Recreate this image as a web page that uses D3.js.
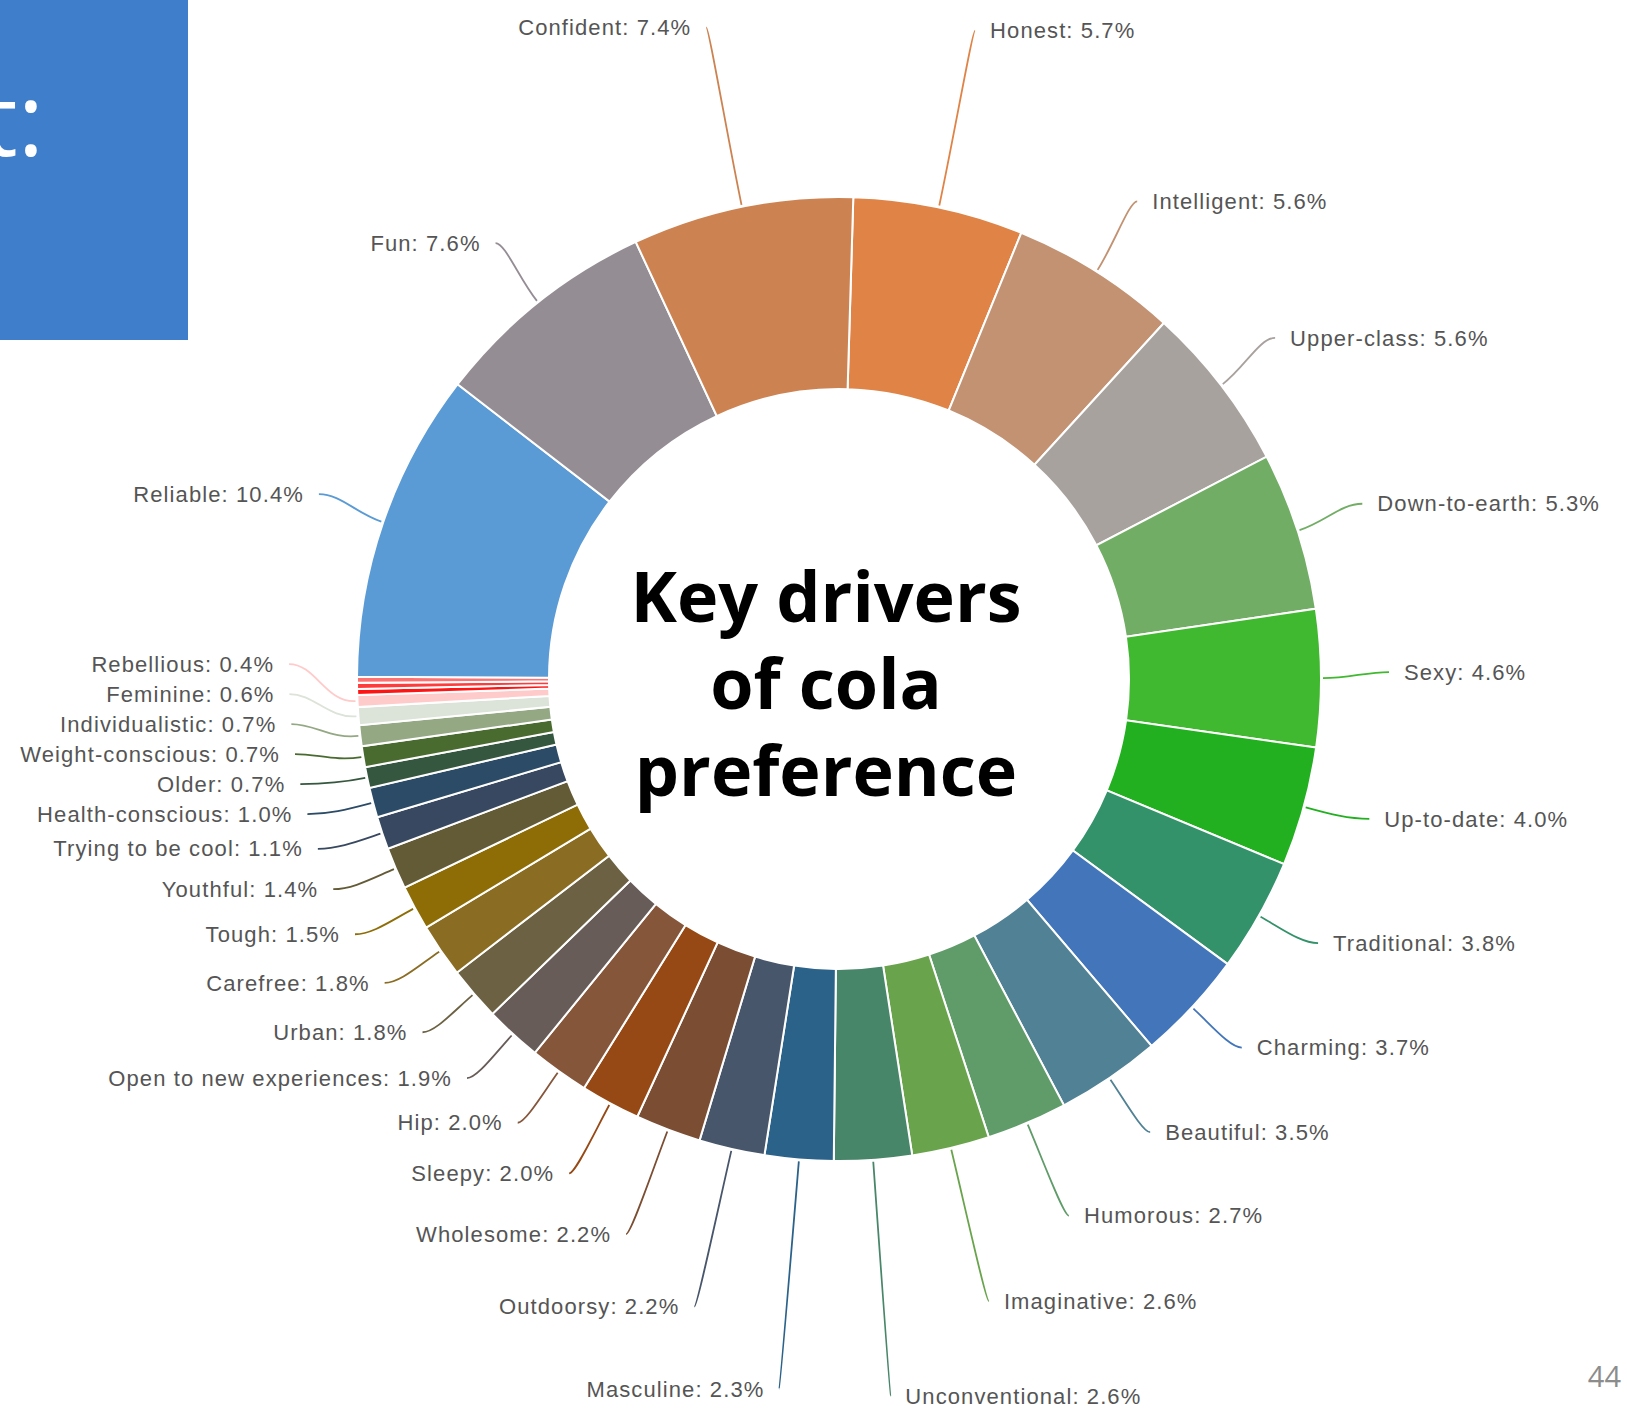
<!DOCTYPE html>
<html>
<head>
<meta charset="utf-8">
<script src="https://cdn.jsdelivr.net/npm/d3@7"></script>
<style>
  html, body { margin: 0; padding: 0; background: #fff; }
  svg { display: block; }
</style>
</head>
<body>
<svg id="chart" width="1627" height="1411"></svg>
<script>

// slices, clockwise from 12 o'clock (the three unnamed red slivers carry no label)
const categories = ["Honest", "Intelligent", "Upper-class", "Down-to-earth", "Sexy", "Up-to-date",
  "Traditional", "Charming", "Beautiful", "Humorous", "Imaginative", "Unconventional",
  "Masculine", "Outdoorsy", "Wholesome", "Sleepy", "Hip", "Open to new experiences",
  "Urban", "Carefree", "Tough", "Youthful", "Trying to be cool", "Health-conscious",
  "Older", "Weight-conscious", "Individualistic", "Feminine", "Rebellious",
  "", "", "", "Reliable", "Fun", "Confident"];

const values = [5.7, 5.6, 5.6, 5.3, 4.6, 4.0,
  3.8, 3.7, 3.5, 2.7, 2.6, 2.6,
  2.3, 2.2, 2.2, 2.0, 2.0, 1.9,
  1.8, 1.8, 1.5, 1.4, 1.1, 1.0,
  0.7, 0.7, 0.7, 0.6, 0.4,
  0.2, 0.2, 0.2, 10.4, 7.6, 7.4];

const colors = ["#df8346", "#c29272", "#a8a29e", "#72ad66", "#40b82f", "#22b020",
  "#33926a", "#4275ba", "#508194", "#609c6a", "#69a44d", "#48866a",
  "#2b6289", "#48566b", "#7b4e33", "#974915", "#85563a", "#675c58",
  "#6c6243", "#8a6c22", "#8e6d07", "#635a36", "#374860", "#2b4b66",
  "#36573f", "#4a6b30", "#94a884", "#dce3d8", "#ffcaca",
  "#ff1414", "#ff3c3c", "#ff7070", "#5b9bd5", "#948e94", "#cd8351"];

const titleLines = ["Key drivers", "of cola", "preference"];
const sideText = "t:";
const pageNumber = "44";


class DonutChart {

	constructor(element_id, data) {
		this.element_id = element_id;
		this.data = data;
		this.cx = 839;
		this.cy = 679;
		this.outerRadius = 482;
		this.innerRadius = 290;
		this.startAngle = 1.7 * Math.PI / 180;
		this.labelRadius = 550;
		this.labelLift = 217;     // extra distance for labels near top / bottom
		this.liftRange = 40;      // degrees from vertical where the lift applies
		this.labelShiftY = -6;
		this.labelSpacing = 30;
		this.labelGap = 15;
		this.font_size = '22px';
		this.textColor = '#555555';
	}

	draw() {
		let self = this;
		let svg = d3.select('#' + this.element_id);

		// BLUE SLIDE BLOCK (cut off at the left)
		svg.append('rect')
			.attr('x', 0).attr('y', 0)
			.attr('width', 188).attr('height', 340)
			.attr('fill', '#3e7ecb');

		svg.append('text')
			.attr('x', 44).attr('y', 156)
			.attr('text-anchor', 'end')
			.style('font-family', '"Open Sans", sans-serif')
			.style('font-size', '100px')
			.attr('fill', '#ffffff')
			.text(sideText);

		let g = svg.append('g')
			.attr('transform', 'translate(' + self.cx + ',' + self.cy + ')');

		let pie = d3.pie()
			.sort(null)
			.value(d => d.value)
			.startAngle(self.startAngle)
			.endAngle(self.startAngle + 2 * Math.PI);

		let arc = d3.arc()
			.innerRadius(self.innerRadius)
			.outerRadius(self.outerRadius);

		let arcs = pie(self.data);

		g.selectAll('path.slice')
			.data(arcs)
			.enter().append('path')
			.attr('class', 'slice')
			.attr('d', arc)
			.attr('fill', d => d.data.color)
			.attr('stroke', '#ffffff')
			.attr('stroke-width', 2);

		// LABEL LAYOUT -------------------------------------------------------
		let labels = arcs.filter(d => d.data.name !== '').map(function(d) {
			let a = (d.startAngle + d.endAngle) / 2;
			let m = a % Math.PI;
			let fromVertical = Math.min(m, Math.PI - m) * 180 / Math.PI;
			let lift = Math.pow(Math.max(0, 1 - fromVertical / self.liftRange), 2);
			let r = self.labelRadius + self.labelLift * lift;
			return {
				d: d, a: a, r: r,
				side: Math.sin(a) >= 0 ? 1 : -1,
				x: r * Math.sin(a),
				y: -r * Math.cos(a)
			};
		});

		// left side: push labels upwards, starting from the bottom
		let left = labels.filter(l => l.side < 0).sort((p, q) => q.y - p.y);
		for (let i = 1; i < left.length; i++) {
			if (left[i].y > left[i - 1].y - self.labelSpacing) {
				left[i].y = left[i - 1].y - self.labelSpacing;
				left[i].x = -Math.sqrt(Math.max(0, left[i].r * left[i].r - left[i].y * left[i].y));
			}
		}
		// right side: push labels downwards, starting from the top
		let right = labels.filter(l => l.side > 0).sort((p, q) => p.y - q.y);
		for (let i = 1; i < right.length; i++) {
			if (right[i].y < right[i - 1].y + self.labelSpacing) {
				right[i].y = right[i - 1].y + self.labelSpacing;
				right[i].x = Math.sqrt(Math.max(0, right[i].r * right[i].r - right[i].y * right[i].y));
			}
		}
		labels.forEach(l => { l.y += self.labelShiftY; });

		// LEADER LINES -------------------------------------------------------
		g.selectAll('path.leader')
			.data(labels)
			.enter().append('path')
			.attr('class', 'leader')
			.attr('fill', 'none')
			.attr('stroke', l => l.d.data.color)
			.attr('stroke-width', 1.8)
			.attr('d', function(l) {
				let r0 = self.outerRadius + 2;
				let sx = r0 * Math.sin(l.a), sy = -r0 * Math.cos(l.a);
				let len = Math.hypot(l.x - sx, l.y - sy);
				let h = len * 0.35 * Math.pow(Math.sin(l.a), 2);
				let p = d3.path();
				p.moveTo(sx, sy);
				p.bezierCurveTo(sx + Math.sin(l.a) * len * 0.4, sy - Math.cos(l.a) * len * 0.4,
					l.x - l.side * h, l.y, l.x, l.y);
				return p.toString();
			});

		g.selectAll('text.label')
			.data(labels)
			.enter().append('text')
			.attr('class', 'label')
			.attr('x', l => l.x + l.side * self.labelGap)
			.attr('y', l => l.y)
			.attr('dy', '0.35em')
			.attr('text-anchor', l => l.side > 0 ? 'start' : 'end')
			.style('font-family', '"Liberation Sans", Arial, sans-serif')
			.style('font-size', self.font_size)
			.style('letter-spacing', '1.1px')
			.attr('fill', self.textColor)
			.text(l => l.d.data.name + ': ' + l.d.data.value.toFixed(1) + '%');

		// CENTRE TITLE -------------------------------------------------------
		svg.append('text')
			.attr('text-anchor', 'middle')
			.style('font-family', '"Open Sans", sans-serif')
			.style('font-weight', 'bold')
			.style('font-size', '70px')
			.attr('fill', '#000000')
			.selectAll('tspan')
			.data(titleLines)
			.enter().append('tspan')
			.attr('x', self.cx - 13)
			.attr('y', (d, i) => 622 + i * 87)
			.text(d => d);

		// PAGE NUMBER
		svg.append('text')
			.attr('x', 1621).attr('y', 1387)
			.attr('text-anchor', 'end')
			.style('font-family', '"Open Sans", sans-serif')
			.style('font-size', '29px')
			.attr('fill', '#8c8c8c')
			.text(pageNumber);
	}
}

let data = categories.map((name, i) => ({name: name, value: values[i], color: colors[i]}));
let chart = new DonutChart('chart', data);
chart.draw();

</script>
</body>
</html>
